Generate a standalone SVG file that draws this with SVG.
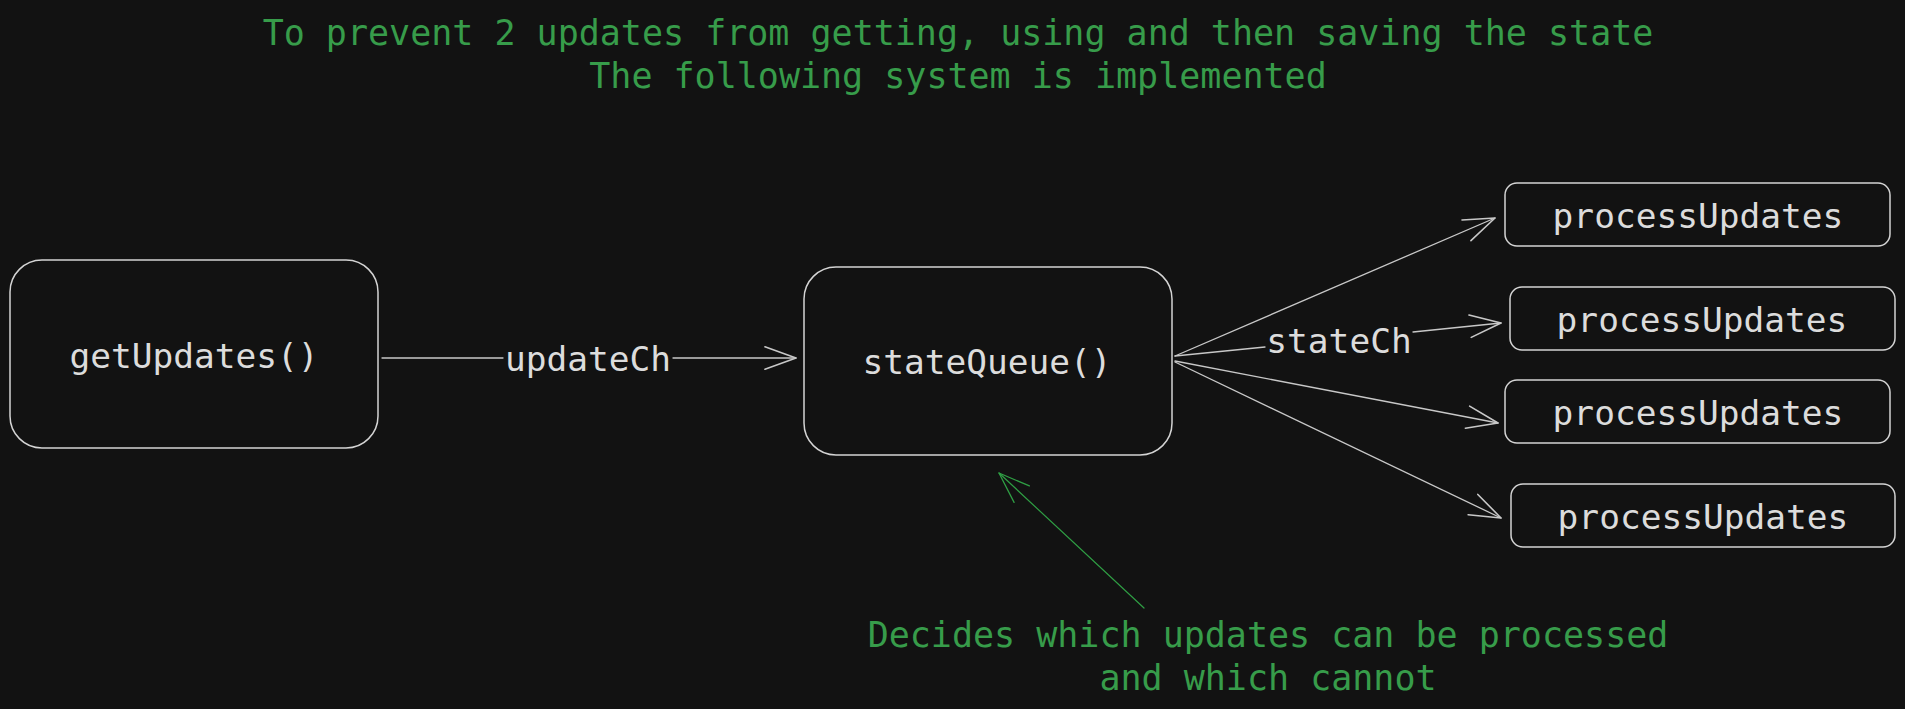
<svg xmlns="http://www.w3.org/2000/svg" width="1905" height="709" viewBox="0 0 1905 709">
<style>
.bg{fill:#121212}
.box{fill:#121212;stroke:#d4d4d4;stroke-width:1.5}
.t{font-family:"DejaVu Sans Mono","Liberation Mono",monospace;font-size:34.5px;fill:#dcdcdc;text-anchor:middle}
.g{font-family:"DejaVu Sans Mono","Liberation Mono",monospace;font-size:35px;fill:#379c4a;text-anchor:middle}
.c{fill:none;stroke:#c8c8c8;stroke-width:1.3;stroke-linecap:round}
.cg{fill:none;stroke:#2f9e44;stroke-width:1.2;stroke-linecap:round}
</style>
<defs>
<marker id="ah" markerUnits="userSpaceOnUse" orient="auto" markerWidth="40" markerHeight="30" refX="0" refY="0" viewBox="-32 -14 36 28" overflow="visible">
<path d="M-29,-10.5 L0,0 L-29,10.5" fill="none" stroke="#c8c8c8" stroke-width="1.5" stroke-linecap="round" stroke-linejoin="round"/>
</marker>
<marker id="ahg" markerUnits="userSpaceOnUse" orient="auto" markerWidth="40" markerHeight="30" refX="0" refY="0" viewBox="-32 -14 36 28" overflow="visible">
<path d="M-29,-10.5 L0,0 L-29,10.5" fill="none" stroke="#2f9e44" stroke-width="1.2" stroke-linecap="round" stroke-linejoin="round"/>
</marker>
</defs>
<rect class="bg" x="0" y="0" width="1905" height="709"/>

<g id="title">
<text class="g" x="958" y="45">To prevent 2 updates from getting, using and then saving the state</text>
<text class="g" x="958" y="88">The following system is implemented</text>
</g>

<g id="connectors">
<path class="c" d="M382,358 L503,358 M673,358 L796,358" marker-end="url(#ah)"/>
<path class="c" d="M1175,356 L1495,218" marker-end="url(#ah)"/>
<path class="c" d="M1175,356 L1265,347 M1413,332 L1501,323" marker-end="url(#ah)"/>
<path class="c" d="M1175,361 L1498,423" marker-end="url(#ah)"/>
<path class="c" d="M1175,362 L1501,518" marker-end="url(#ah)"/>
<path class="cg" d="M1144,608 L999,473" marker-end="url(#ahg)"/>
<text class="t" x="588" y="371">updateCh</text>
<text class="t" x="1339" y="353">stateCh</text>
</g>

<g id="getUpdates">
<rect class="box" x="10" y="260" width="368" height="188" rx="32" ry="32"/>
<text class="t" x="194" y="368">getUpdates()</text>
</g>

<g id="stateQueue">
<rect class="box" x="804" y="267" width="368" height="188" rx="32" ry="32"/>
<text class="t" x="987" y="374">stateQueue()</text>
</g>

<g id="processUpdates1">
<rect class="box" x="1505" y="183" width="385" height="63" rx="12" ry="12"/>
<text class="t" x="1698" y="228">processUpdates</text>
</g>
<g id="processUpdates2">
<rect class="box" x="1510" y="287" width="385" height="63" rx="12" ry="12"/>
<text class="t" x="1702" y="332">processUpdates</text>
</g>
<g id="processUpdates3">
<rect class="box" x="1505" y="380" width="385" height="63" rx="12" ry="12"/>
<text class="t" x="1698" y="425">processUpdates</text>
</g>
<g id="processUpdates4">
<rect class="box" x="1511" y="484" width="384" height="63" rx="12" ry="12"/>
<text class="t" x="1703" y="529">processUpdates</text>
</g>

<g id="note">
<text class="g" x="1268" y="647">Decides which updates can be processed</text>
<text class="g" x="1268" y="690">and which cannot</text>
</g>
</svg>
